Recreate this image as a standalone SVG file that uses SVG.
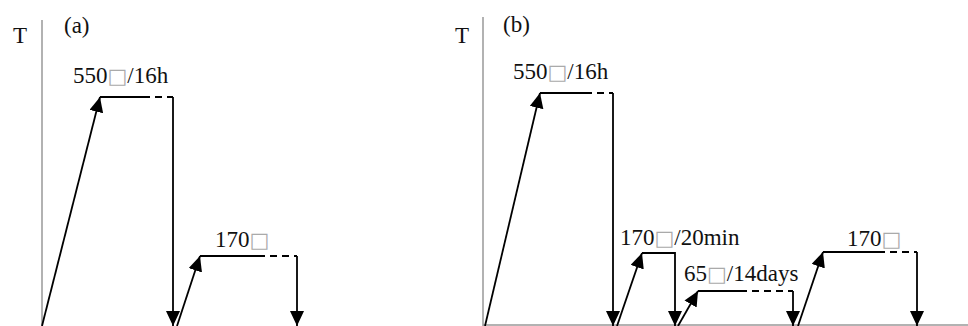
<svg xmlns="http://www.w3.org/2000/svg" width="968" height="326" viewBox="0 0 968 326">
<style>
.ax{stroke:#999;stroke-width:1.5;fill:none}
.ln{stroke:#000;stroke-width:1.8;fill:none}
.ds{stroke:#000;stroke-width:1.8;fill:none;stroke-dasharray:7 5}
.tx{font-family:"Liberation Serif","Times New Roman",serif;font-size:23px;fill:#111}
.bx{fill:#aaa;font-family:"DejaVu Sans",sans-serif;font-size:21px}
</style>
<defs>
<marker id="ah" markerUnits="userSpaceOnUse" markerWidth="16" markerHeight="14" refX="15" refY="7" orient="auto" viewBox="0 0 16 14">
<path d="M0,0 L15,7 L0,14 z" fill="#000"/>
</marker>
</defs>
<g id="axes">
<line class="ax" x1="42" y1="20" x2="42" y2="326"/>
<line class="ax" x1="483" y1="17" x2="483" y2="326"/>
<line class="ax" x1="483" y1="325" x2="968" y2="325"/>
</g>
<g id="labels">
<text class="tx" x="13" y="43">T</text>
<text class="tx" x="64" y="33">(a)</text>
<text class="tx" x="455" y="43">T</text>
<text class="tx" x="503" y="32">(b)</text>
<text class="tx" x="73" y="83">550<tspan class="bx">□</tspan>/16h</text>
<text class="tx" x="215" y="247">170<tspan class="bx">□</tspan></text>
<text class="tx" x="513" y="79">550<tspan class="bx">□</tspan>/16h</text>
<text class="tx" x="620" y="245">170<tspan class="bx">□</tspan>/20min</text>
<text class="tx" x="684" y="281">65<tspan class="bx">□</tspan>/14days</text>
<text class="tx" x="847" y="246">170<tspan class="bx">□</tspan></text>
</g>
<g id="connectors">
<line class="ln" x1="42" y1="326" x2="100" y2="97" marker-end="url(#ah)"/>
<line class="ln" x1="100" y1="97" x2="143" y2="97"/>
<line class="ds" x1="143" y1="97" x2="173" y2="97"/>
<line class="ln" x1="173" y1="97" x2="173" y2="326" marker-end="url(#ah)"/>
<line class="ln" x1="177" y1="326" x2="200" y2="256" marker-end="url(#ah)"/>
<line class="ln" x1="200" y1="256" x2="258" y2="256"/>
<line class="ds" x1="258" y1="256" x2="297" y2="256"/>
<line class="ln" x1="297" y1="256" x2="297" y2="326" marker-end="url(#ah)"/>
<line class="ln" x1="485" y1="326" x2="540" y2="93" marker-end="url(#ah)"/>
<line class="ln" x1="540" y1="93" x2="585" y2="93"/>
<line class="ds" x1="585" y1="93" x2="613" y2="93"/>
<line class="ln" x1="613" y1="93" x2="613" y2="326" marker-end="url(#ah)"/>
<line class="ln" x1="617" y1="326" x2="642" y2="253" marker-end="url(#ah)"/>
<polyline class="ln" points="642,253 675,253 675,326" marker-end="url(#ah)"/>
<line class="ln" x1="678" y1="326" x2="698" y2="291" marker-end="url(#ah)"/>
<line class="ln" x1="698" y1="291" x2="740" y2="291"/>
<line class="ds" x1="740" y1="291" x2="793" y2="291"/>
<line class="ln" x1="793" y1="291" x2="793" y2="326" marker-end="url(#ah)"/>
<line class="ln" x1="798" y1="326" x2="823" y2="252" marker-end="url(#ah)"/>
<line class="ln" x1="823" y1="252" x2="878" y2="252"/>
<line class="ds" x1="878" y1="252" x2="917" y2="252"/>
<line class="ln" x1="917" y1="252" x2="917" y2="326" marker-end="url(#ah)"/>
</g>
</svg>
